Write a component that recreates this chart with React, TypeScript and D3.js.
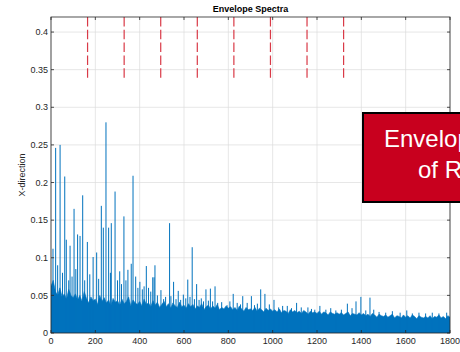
import React from "react"
import * as d3 from "d3"

// axis ticks
const xTicks = [0, 200, 400, 600, 800, 1000, 1200, 1400, 1600, 1800]
const yTicks = [0, 0.05, 0.1, 0.15, 0.2, 0.25, 0.3, 0.35, 0.4]
const yTickLabels = ["0", "0.05", "0.1", "0.15", "0.2", "0.25", "0.3", "0.35", "0.4"]

// red dashed markers (harmonics)
const markerFreqs = [165, 330, 495, 660, 825, 990, 1155, 1320]

// dense noise floor, top of band every 10 Hz from 0 to 1800
const bandStep = 10
const bandTop = [
  0.062, 0.07, 0.055, 0.05, 0.06, 0.048, 0.052, 0.045, 0.058, 0.05,
  0.047, 0.052, 0.044, 0.05, 0.042, 0.055, 0.046, 0.04, 0.048, 0.043,
  0.045, 0.038, 0.05, 0.042, 0.047, 0.04, 0.044, 0.036, 0.046, 0.041,
  0.043, 0.037, 0.045, 0.039, 0.042, 0.048, 0.036, 0.044, 0.04, 0.038,
  0.042, 0.036, 0.045, 0.038, 0.04, 0.035, 0.043, 0.037, 0.041, 0.034,
  0.038, 0.042, 0.035, 0.039, 0.033, 0.04, 0.036, 0.034, 0.041, 0.035,
  0.037, 0.033, 0.039, 0.035, 0.038, 0.032, 0.036, 0.034, 0.039, 0.031,
  0.035, 0.037, 0.032, 0.036, 0.033, 0.038, 0.031, 0.034, 0.032, 0.036,
  0.033, 0.035, 0.031, 0.034, 0.03, 0.036, 0.032, 0.029, 0.034, 0.031,
  0.032, 0.03, 0.034, 0.029, 0.033, 0.031, 0.028, 0.033, 0.03, 0.032,
  0.029, 0.031, 0.028, 0.032, 0.027, 0.03, 0.029, 0.026, 0.031, 0.028,
  0.03, 0.027, 0.029, 0.026, 0.03, 0.028, 0.025, 0.029, 0.027, 0.028,
  0.026, 0.029, 0.025, 0.028, 0.027, 0.024, 0.028, 0.026, 0.025, 0.027,
  0.025, 0.027, 0.024, 0.026, 0.028, 0.023, 0.026, 0.025, 0.024, 0.027,
  0.024, 0.026, 0.023, 0.025, 0.022, 0.026, 0.024, 0.021, 0.025, 0.023,
  0.022, 0.024, 0.021, 0.023, 0.025, 0.02, 0.023, 0.022, 0.02, 0.024,
  0.021, 0.023, 0.02, 0.024, 0.022, 0.019, 0.023, 0.021, 0.02, 0.022,
  0.02, 0.023, 0.019, 0.022, 0.021, 0.024, 0.02, 0.022, 0.019, 0.023, 0.021,
]

// individual spectral lines
const peakFreqs = [
  9, 21, 30, 41, 52, 62, 69, 80, 86, 95, 104, 112, 120, 131, 143, 152, 164, 175, 190, 206,
  215, 227, 236, 248, 260, 268, 272, 289, 300, 310, 318, 329, 338, 347, 362, 370, 382, 392, 401, 412,
  420, 430, 440, 450, 459, 465, 469, 480, 496, 508, 517, 535, 541, 553, 564, 574, 585, 597, 608, 617,
  627, 637, 647, 657, 668, 678, 688, 699, 710, 719, 729, 740, 752, 770, 794, 807, 822, 840, 855, 865,
  885, 904, 918, 931, 946, 965, 985, 1006, 1027, 1045, 1066, 1085, 1108, 1129, 1159, 1175, 1190, 1213, 1240, 1262,
  1285, 1310, 1337, 1358, 1376, 1398, 1420, 1439, 1456, 1480, 1510, 1540, 1575, 1605, 1630, 1660, 1690, 1720, 1750, 1785,
]
const peakAmps = [
  0.112, 0.246, 0.09, 0.25, 0.08, 0.208, 0.124, 0.07, 0.116, 0.075, 0.165, 0.085, 0.131, 0.129, 0.183, 0.07, 0.121, 0.078, 0.101, 0.107,
  0.072, 0.169, 0.14, 0.28, 0.14, 0.08, 0.146, 0.188, 0.07, 0.082, 0.065, 0.155, 0.07, 0.084, 0.092, 0.209, 0.075, 0.06, 0.068, 0.058,
  0.062, 0.089, 0.06, 0.055, 0.074, 0.074, 0.09, 0.05, 0.057, 0.045, 0.048, 0.146, 0.049, 0.068, 0.045, 0.056, 0.044, 0.051, 0.046, 0.071,
  0.048, 0.114, 0.045, 0.065, 0.044, 0.046, 0.042, 0.058, 0.043, 0.059, 0.042, 0.062, 0.04, 0.041, 0.037, 0.042, 0.052, 0.04, 0.038, 0.049,
  0.04, 0.049, 0.037, 0.039, 0.058, 0.052, 0.038, 0.044, 0.034, 0.036, 0.036, 0.033, 0.04, 0.034, 0.034, 0.032, 0.031, 0.036, 0.031, 0.033,
  0.03, 0.031, 0.039, 0.033, 0.042, 0.048, 0.03, 0.047, 0.031, 0.028, 0.027, 0.029, 0.027, 0.03, 0.026, 0.027, 0.026, 0.027, 0.026, 0.027,
]

const W = 460
const H = 352
const margin = { top: 17, right: 10, bottom: 19, left: 51 }
const blue = "#0072bd"
const axisColor = "#262626"
const font = "'Liberation Sans', Arial, Helvetica, sans-serif"

export default function App() {
  const x = d3.scaleLinear().domain([0, 1800]).range([margin.left, W - margin.right])
  const y = d3.scaleLinear().domain([0, 0.42]).range([H - margin.bottom, margin.top])

  const band = d3
    .area<number>()
    .x((_, i) => x(i * bandStep))
    .y0(y(0))
    .y1((d) => y(d))(bandTop)

  const x0 = x.range()[0]
  const x1 = x.range()[1]
  const yb = y(0)
  const yt = y(0.42)

  return (
    <div style={{ position: "fixed", left: 0, top: 0, background: "#fff" }}>
      <svg width={W} height={H} style={{ display: "block", fontFamily: font }}>
        <rect x={0} y={0} width={W} height={H} fill="#fff" />
        <defs>
          <clipPath id="plot">
            <rect x={x0} y={yt} width={x1 - x0} height={yb - yt} />
          </clipPath>
        </defs>

        {/* grid */}
        {xTicks.map((t) => (
          <line key={"gx" + t} x1={x(t)} x2={x(t)} y1={yb} y2={yt} stroke="#dcdcdc" strokeWidth={0.7} />
        ))}
        {yTicks.map((t) => (
          <line key={"gy" + t} x1={x0} x2={x1} y1={y(t)} y2={y(t)} stroke="#dcdcdc" strokeWidth={0.7} />
        ))}

        {/* spectrum */}
        <g clipPath="url(#plot)">
          <path d={band ?? ""} fill={blue} stroke={blue} strokeWidth={0.6} />
          {peakFreqs.map((f, i) => (
            <line key={"p" + i} x1={x(f)} x2={x(f)} y1={yb} y2={y(peakAmps[i])} stroke={blue} strokeWidth={1} />
          ))}
        </g>

        {/* dashed markers */}
        {markerFreqs.map((f) => (
          <line
            key={"m" + f}
            x1={x(f)}
            x2={x(f)}
            y1={y(0.42)}
            y2={y(0.335)}
            stroke="#d93a47"
            strokeWidth={1.2}
            strokeDasharray="9.5,3.3"
          />
        ))}

        {/* box */}
        <rect x={x0} y={yt} width={x1 - x0} height={yb - yt} fill="none" stroke={axisColor} strokeWidth={0.8} />

        {/* ticks */}
        {xTicks.map((t) => (
          <g key={"tx" + t}>
            <line x1={x(t)} x2={x(t)} y1={yb} y2={yb - 3} stroke={axisColor} strokeWidth={0.8} />
            <line x1={x(t)} x2={x(t)} y1={yt} y2={yt + 3} stroke={axisColor} strokeWidth={0.8} />
            <text x={x(t)} y={344} textAnchor="middle" fontSize={9} fill={axisColor}>
              {t}
            </text>
          </g>
        ))}
        {yTicks.map((t, i) => (
          <g key={"ty" + t}>
            <line x1={x0} x2={x0 + 3} y1={y(t)} y2={y(t)} stroke={axisColor} strokeWidth={0.8} />
            <line x1={x1} x2={x1 - 3} y1={y(t)} y2={y(t)} stroke={axisColor} strokeWidth={0.8} />
            <text x={x0 - 3} y={y(t) + 3.2} textAnchor="end" fontSize={9} fill={axisColor}>
              {yTickLabels[i]}
            </text>
          </g>
        ))}

        {/* title and label */}
        <text x={(x0 + x1) / 2} y={11.5} textAnchor="middle" fontSize={9} fontWeight="bold" fill="#000">
          Envelope Spectra
        </text>
        <text
          transform={`translate(25,${(yb + yt) / 2}) rotate(-90)`}
          textAnchor="middle"
          fontSize={9}
          fill={axisColor}
        >
          X-direction
        </text>

        {/* overlay callout */}
        <rect x={363} y={113} width={110} height={89} fill="#c8001e" stroke="#000" strokeWidth={2} />
        <text x={384} y={147} fontSize={24} fill="#fff">
          Envelope Spectrum
        </text>
        <text x={418} y={178} fontSize={24} fill="#fff">
          of Raw Signal
        </text>
      </svg>
    </div>
  )
}
